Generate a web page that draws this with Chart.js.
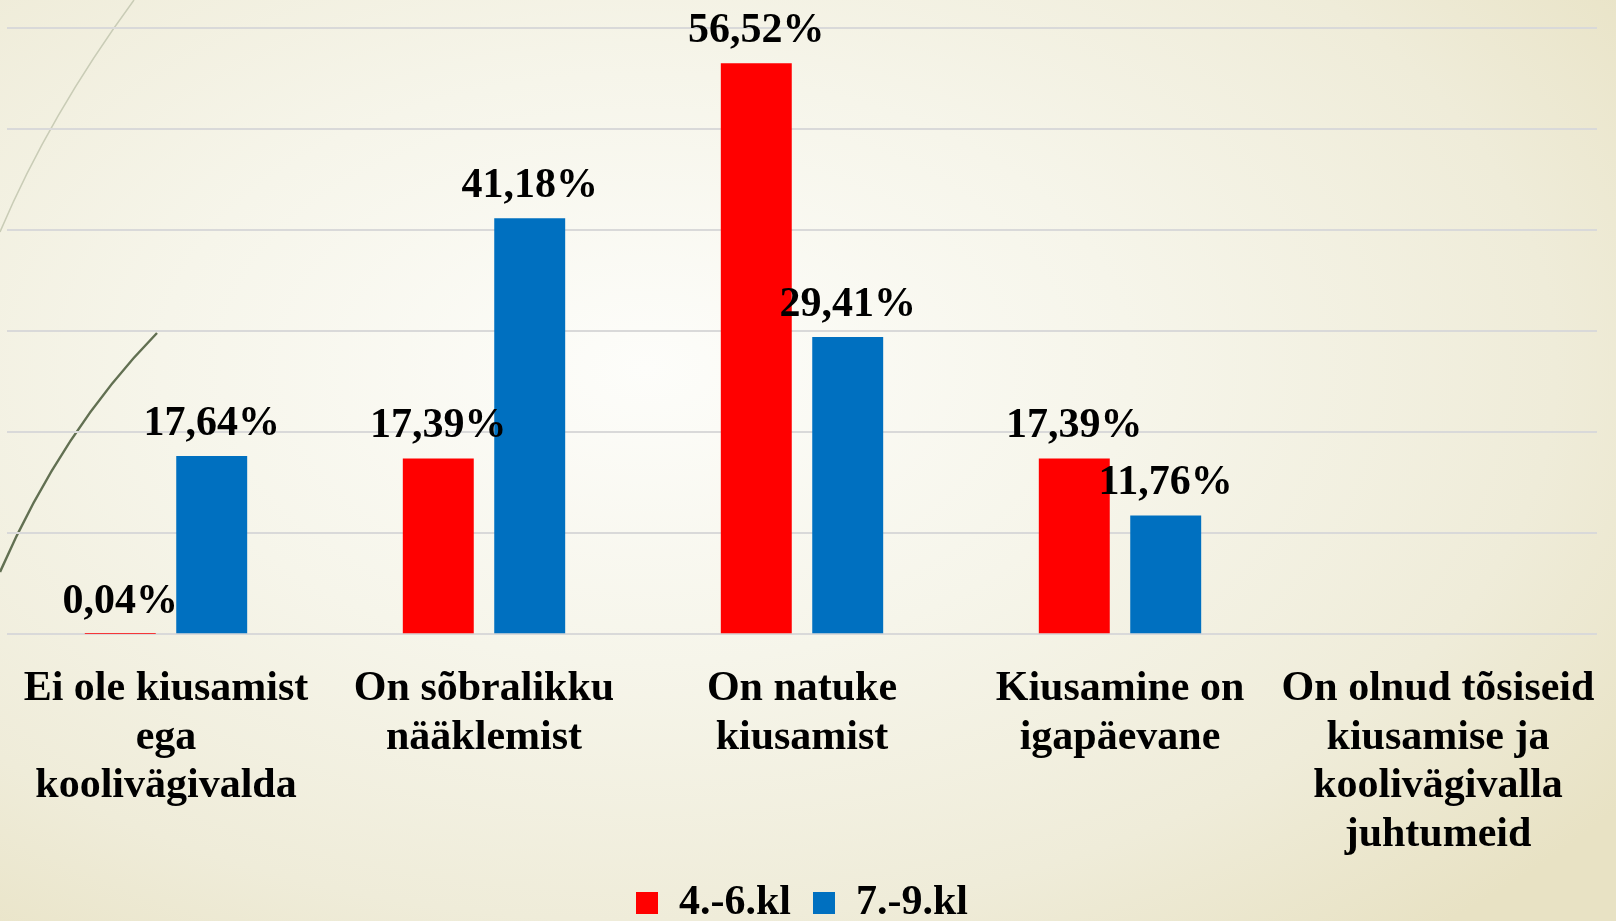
<!DOCTYPE html>
<html>
<head>
<meta charset="utf-8">
<script src="https://cdn.jsdelivr.net/npm/chart.js@4.4.0/dist/chart.umd.min.js"></script>
<style>
  html, body { margin: 0; padding: 0; }
  body {
    width: 1616px; height: 921px; overflow: hidden;
    background: radial-gradient(ellipse 75% 80% at 40% 40%, #fdfdfa 0%, #f6f5ea 40%, #efecd9 75%, #e8e2c4 100%);
  }
  #wrap { position: relative; width: 1616px; height: 921px; }
</style>
</head>
<body>
<div id="wrap"><canvas id="myChart" width="1616" height="921"></canvas></div>
<script>
  const categories = [
    ['Ei ole kiusamist', 'ega', 'koolivägivalda'],
    ['On sõbralikku', 'nääklemist'],
    ['On natuke', 'kiusamist'],
    ['Kiusamine on', 'igapäevane'],
    ['On olnud tõsiseid', 'kiusamise ja', 'koolivägivalla', 'juhtumeid']
  ];
  const grade4to6 = [0.04, 17.39, 56.52, 17.39, null];
  const grade7to9 = [17.64, 41.18, 29.41, 11.76, null];
  const seriesNames = ['4.-6.kl', '7.-9.kl'];
  const yTicks = [0, 10, 20, 30, 40, 50, 60];

  const serif = '"Liberation Serif", "Times New Roman", serif';

  // theme decoration: thin arcs on the left edge
  const sideArcs = {
    id: 'sideArcs',
    beforeDraw(chart) {
      const ctx = chart.ctx;
      ctx.save();
      ctx.strokeStyle = '#c9ccb6';
      ctx.lineWidth = 1.5;
      ctx.beginPath();
      ctx.moveTo(134, 0);
      ctx.quadraticCurveTo(49, 116, 0, 232);
      ctx.stroke();
      ctx.strokeStyle = '#627052';
      ctx.lineWidth = 2.5;
      ctx.beginPath();
      ctx.moveTo(157, 333);
      ctx.quadraticCurveTo(62, 430, 0, 572);
      ctx.stroke();
      ctx.restore();
    }
  };

  // percentage labels above bars
  const valueLabels = {
    id: 'valueLabels',
    afterDatasetsDraw(chart) {
      const ctx = chart.ctx;
      ctx.save();
      ctx.font = 'bold 42px ' + serif;
      ctx.fillStyle = '#000';
      ctx.textAlign = 'center';
      ctx.textBaseline = 'middle';
      chart.data.datasets.forEach((ds, i) => {
        chart.getDatasetMeta(i).data.forEach((bar, j) => {
          const v = ds.data[j];
          if (v == null) return;
          ctx.fillText(v.toFixed(2).replace('.', ',') + '%', bar.x, bar.y - 32);
        });
      });
      ctx.restore();
    }
  };

  const ctx = document.getElementById('myChart').getContext('2d');
  const chart = new Chart(ctx, {
    type: 'bar',
    data: {
      labels: categories,
      datasets: [
        { label: seriesNames[0], data: grade4to6, backgroundColor: '#ff0000' },
        { label: seriesNames[1], data: grade7to9, backgroundColor: '#0070c0' }
      ]
    },
    options: {
      responsive: false,
      animation: false,
      layout: { padding: { top: 28, left: 7, right: 19, bottom: -13 } },
      datasets: { bar: { categoryPercentage: 0.575, barPercentage: 0.776 } },
      scales: {
        x: {
          grid: { display: false, drawTicks: false },
          border: { display: false },
          ticks: {
            color: '#000',
            font: { family: serif, size: 42, weight: 'bold', lineHeight: 1.165 },
            padding: 30,
            maxRotation: 0,
            autoSkip: false
          },
          // labels sit close to the legend, drop the padding below them
          // and the side padding chart.js adds for wide labels
          afterFit(scale) {
            scale.height -= 30;
            scale.paddingLeft = 0;
            scale.paddingRight = 0;
          }
        },
        y: {
          min: yTicks[0],
          max: yTicks[yTicks.length - 1],
          ticks: { display: false, stepSize: yTicks[1] - yTicks[0] },
          grid: { color: '#d9d9d9', lineWidth: 2, drawTicks: false },
          border: { display: false }
        }
      },
      plugins: {
        legend: {
          position: 'bottom',
          labels: {
            boxWidth: 22,
            boxHeight: 22,
            color: '#000',
            font: { family: serif, size: 42, weight: 'bold' },
            padding: 22
          }
        },
        tooltip: { enabled: false }
      }
    },
    plugins: [sideArcs, valueLabels]
  });
</script>
</body>
</html>
